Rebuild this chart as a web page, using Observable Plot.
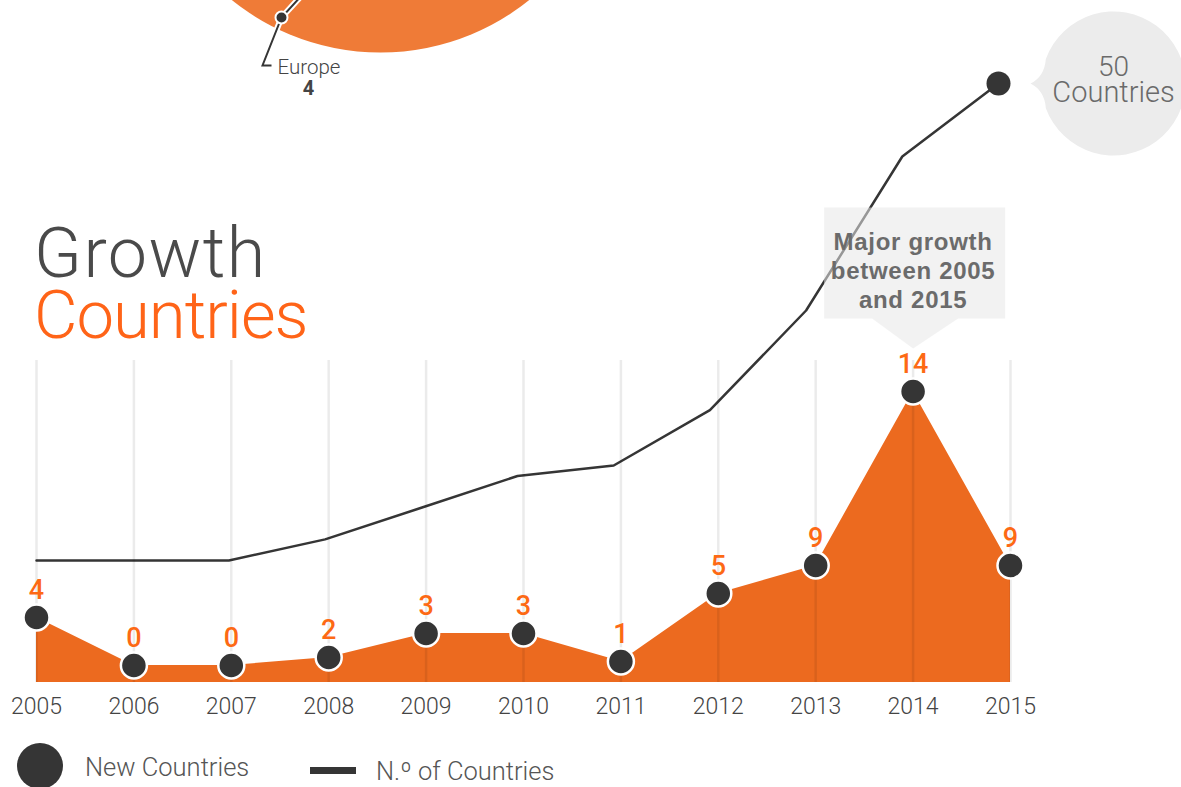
<!DOCTYPE html>
<html>
<head>
<meta charset="utf-8">
<script src="https://cdn.jsdelivr.net/npm/d3@7"></script>
<script src="https://cdn.jsdelivr.net/npm/@observablehq/plot@0.6"></script>
<style>
html,body{margin:0;padding:0;background:#fff;}
#root{position:relative;width:1181px;height:787px;overflow:hidden;font-family:Roboto,"Helvetica Neue",Arial,sans-serif;}
#root svg{position:absolute;left:0;top:0;}
.t{position:absolute;white-space:nowrap;font-weight:300;line-height:1;}
#root g[fill="#6b6b6b"] text{letter-spacing:0.7px;}
</style>
</head>
<body>
<div id="root"></div>
<script>
// ---- data ----
const years = [2005, 2006, 2007, 2008, 2009, 2010, 2011, 2012, 2013, 2014, 2015];
const newCountries = [4, 0, 0, 2, 3, 3, 1, 5, 9, 14, 9];
const totalCountries = [4, 4, 4, 6, 9, 12, 13, 18, 27, 41, 50];
const regionNames = ["Europe"];
const regionValues = [4];
const annotationLines = ["Major growth", "between 2005", "and 2015"];
const titleLines = ["Growth", "Countries"];
const legendLabels = ["New Countries", "N.º of Countries"];
const bubbleUnit = "Countries";

const rows = years.map((year, i) => ({year, n: newCountries[i], total: totalCountries[i]}));
const regions = regionNames.map((name, i) => ({name, value: regionValues[i]}));
const peak = d3.greatest(rows, d => d.n);
const last = rows[rows.length - 1];

const W = 1181, H = 735;
const FONT = 'Roboto, "Helvetica Neue", Arial, sans-serif';
const ORANGE = "#ec6a1f", LABEL = "#fd6914", DARK = "#353535";

// non-linear (piecewise) value transforms, as used by the original graphic
const floor = -1; // axis floor of the area
const newScaleT = d3.scaleLinear().domain([floor, 0, 1, 2, 3, 4, 5, 9, 14]).range([0, 17, 21, 25, 49, 65, 89, 117, 291]);
const totalScaleT = d3.scaleLinear().domain([4, 13, 27, 41, 50]).range([0, 95, 250, 404, 477]);

// custom symbols (pixel offsets relative to their data anchor)
const callout = {draw(c) {
  c.moveTo(-89, -184); c.lineTo(92, -184); c.lineTo(92, -73); c.lineTo(45, -73);
  c.lineTo(0, -43); c.lineTo(-41, -73); c.lineTo(-89, -73); c.closePath();
}};
const bubble = {draw(c) {
  const cx = 115, R = 72, a = 20 * Math.PI / 180;
  c.moveTo(32, 0);
  c.quadraticCurveTo(46, -7, cx - R * Math.cos(a), -R * Math.sin(a));
  c.arc(cx, 0, R, Math.PI + a, Math.PI - a);
  c.quadraticCurveTo(46, 7, 32, 0);
  c.closePath();
}};
const leader = {draw(c) {
  c.moveTo(22, -24); c.lineTo(0, 0); c.lineTo(-19, 48); c.lineTo(-10, 48);
}};

// ---- bottom layer: cumulative line, bubble, region pie ----
const lineLayer = Plot.plot({
  width: W, height: H,
  marginTop: 0, marginLeft: 0, marginRight: 0, marginBottom: 0,
  style: {background: "transparent", fontFamily: FONT, fontWeight: 300},
  x: {domain: [2005, 2015], range: [36, 998], axis: null},
  y: {transform: totalScaleT, domain: [0, 477], range: [560, 83], axis: null},
  marks: [
    Plot.dot(regions, {frameAnchor: "top-left", dx: 380, dy: -185, r: 237, fill: "#ef7b37"}),
    Plot.dot(regions, {frameAnchor: "top-left", dx: 281, dy: 17, symbol: leader, fill: "none", stroke: "white", strokeWidth: 6}),
    Plot.dot(regions, {frameAnchor: "top-left", dx: 281, dy: 17, symbol: leader, fill: "none", stroke: DARK, strokeWidth: 2}),
    Plot.dot(regions, {frameAnchor: "top-left", dx: 281, dy: 17, r: 6, fill: DARK, stroke: "white", strokeWidth: 2}),
    Plot.text(regions, {frameAnchor: "top-left", dx: 277, dy: 67, text: "name", textAnchor: "start", lineAnchor: "middle", fontSize: 20.5, fill: "#444"}),
    Plot.text(regions, {frameAnchor: "top-left", dx: 308, dy: 88, text: d => String(d.value), textAnchor: "middle", lineAnchor: "middle", fontSize: 20, fontWeight: 700, fill: "#444"}),
    Plot.line(rows, {x: "year", y: "total", stroke: DARK, strokeWidth: 2.5}),
    Plot.dot([last], {x: "year", y: "total", symbol: bubble, fill: "#ececec"}),
    Plot.dot([last], {x: "year", y: "total", r: 12, fill: DARK}),
    Plot.text([last], {x: "year", y: "total", text: d => String(d.total), dx: 115, dy: -16, fontSize: 28, fill: "#6a6a6a"}),
    Plot.text([last], {x: "year", y: "total", text: () => bubbleUnit, dx: 115, dy: 9, fontSize: 29, fill: "#6a6a6a"})
  ]
});

// ---- top layer: new countries area ----
const areaLayer = Plot.plot({
  width: W, height: H,
  marginTop: 360, marginBottom: H - 682, marginLeft: 0, marginRight: 0,
  style: {background: "transparent", fontFamily: FONT, fontWeight: 300, fontSize: "23px"},
  x: {domain: [2005, 2015], range: [36, 1010], axis: null},
  y: {transform: newScaleT, domain: [0, 291], range: [682, 391], axis: null},
  marks: [
    Plot.areaY(rows, {x: "year", y1: () => floor, y2: "n", fill: ORANGE}),
    Plot.ruleX(years, {stroke: "#000", strokeOpacity: 0.08, strokeWidth: 2.5}),
    Plot.dot([peak], {x: "year", y: "n", symbol: callout, fill: "#e7e7e7", fillOpacity: 0.55}),
    Plot.text([peak], {x: "year", y: "n", text: () => annotationLines.join("\n"), dy: -122, lineHeight: 1.22,
      fontFamily: '"Liberation Sans", Arial, sans-serif', fontSize: 24, fontWeight: 700, fill: "#6b6b6b"}),
    Plot.dot(rows, {x: "year", y: "n", r: 13, fill: DARK, stroke: "white", strokeWidth: 2.5}),
    Plot.text(rows, {x: "year", y: "n", text: d => String(d.n), dy: -27, fontSize: 27, fontWeight: 500, fill: LABEL}),
    Plot.axisX({ticks: years, tickFormat: "d", tickSize: 0, tickPadding: 15, fill: "#444", fontSize: 23, label: null})
  ]
});

const root = document.getElementById("root");
root.appendChild(lineLayer);
root.appendChild(areaLayer);

function addText(txt, css) {
  const d = document.createElement("div");
  d.className = "t";
  d.textContent = txt;
  Object.assign(d.style, css);
  root.appendChild(d);
  return d;
}
addText(titleLines[0], {left: "34px", top: "218px", fontSize: "70px", color: "#4a4a4a", letterSpacing: "1.5px"});
addText(titleLines[1], {left: "34px", top: "282px", fontSize: "67px", color: "#ff6418", letterSpacing: "-1px"});

// legend
const sw = document.createElement("div");
Object.assign(sw.style, {position: "absolute", left: "17px", top: "743px", width: "46px", height: "46px", borderRadius: "50%", background: DARK});
root.appendChild(sw);
addText(legendLabels[0], {left: "85px", top: "755px", fontSize: "25.5px", color: "#555"});
const ln = document.createElement("div");
Object.assign(ln.style, {position: "absolute", left: "310px", top: "767px", width: "46px", height: "7px", background: DARK});
root.appendChild(ln);
addText(legendLabels[1], {left: "376px", top: "759px", fontSize: "25.5px", color: "#555"});
</script>
</body>
</html>
